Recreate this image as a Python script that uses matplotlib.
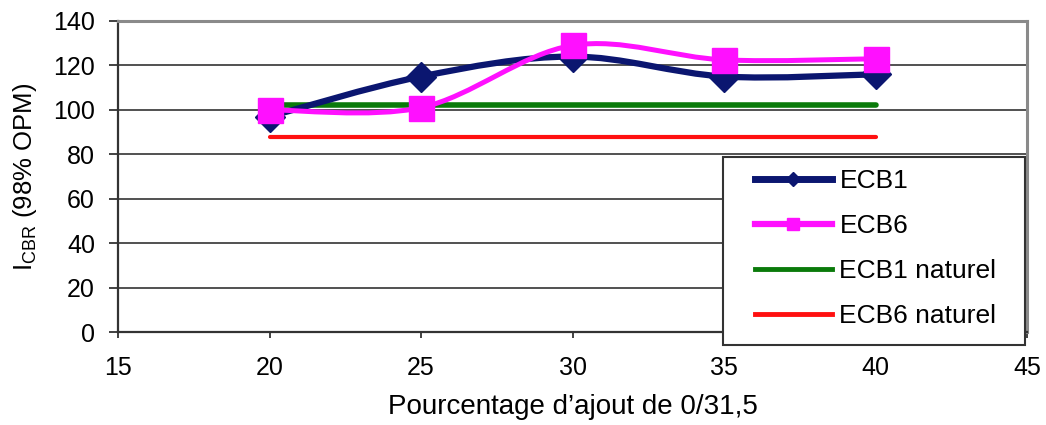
import numpy as np
import matplotlib.pyplot as plt
from matplotlib.path import Path
from matplotlib.patches import PathPatch, Rectangle
from matplotlib.lines import Line2D

# pourcentage d'ajout and CBR index values
pourcentage = [20, 25, 30, 35, 40]
ecb1 = [97, 115, 124, 115, 116]
ecb6 = [100, 101, 129, 122.5, 123]
ecb1_naturel = 102
ecb6_naturel = 88

plt.rcParams['font.family'] = ['Liberation Sans', 'DejaVu Sans']
plt.rcParams['mathtext.fontset'] = 'custom'
plt.rcParams['mathtext.rm'] = 'Liberation Sans'


def smooth_path(x, y, t=1 / 6):
    # cubic bezier through every point, like a spreadsheet "smoothed line"
    x = np.asarray(x, float)
    y = np.asarray(y, float)
    verts = [(x[0], y[0])]
    codes = [Path.MOVETO]
    n = len(x)
    for i in range(n - 1):
        p0 = (x[max(i - 1, 0)], y[max(i - 1, 0)])
        p1 = (x[i], y[i])
        p2 = (x[i + 1], y[i + 1])
        p3 = (x[min(i + 2, n - 1)], y[min(i + 2, n - 1)])
        c1 = (p1[0] + (p2[0] - p0[0]) * t, p1[1] + (p2[1] - p0[1]) * t)
        c2 = (p2[0] - (p3[0] - p1[0]) * t, p2[1] - (p3[1] - p1[1]) * t)
        verts += [c1, c2, p2]
        codes += [Path.CURVE4] * 3
    return Path(verts, codes)


fig = plt.figure(figsize=(10.46, 4.25), dpi=100)
ax = fig.add_axes([118 / 1046, 1 - 332 / 425, 909 / 1046, 311 / 425])

ax.set_xlim(15, 45)
ax.set_ylim(0, 140)
ax.set_xticks(range(15, 50, 5))
ax.set_yticks(range(0, 160, 20))
ax.yaxis.grid(True, color='#222222', linewidth=1.1)
ax.set_axisbelow(True)

for side in ['top', 'right']:
    ax.spines[side].set_color('#8a8a8a')
    ax.spines[side].set_linewidth(2.2)
for side in ['left', 'bottom']:
    ax.spines[side].set_color('#333333')
    ax.spines[side].set_linewidth(1.6)

navy = '#0b1670'
magenta = '#ff10ff'
green = '#0a7a0a'
red = '#ff1010'

# horizontal reference levels for the natural materials
ax.plot([pourcentage[0], pourcentage[-1]], [ecb1_naturel] * 2, color=green, lw=4, solid_capstyle='round', zorder=2)
ax.plot([pourcentage[0], pourcentage[-1]], [ecb6_naturel] * 2, color=red, lw=3, solid_capstyle='round', zorder=2)

ax.add_patch(PathPatch(smooth_path(pourcentage, ecb1), fc='none', ec=navy, lw=4.5, zorder=3))
ax.plot(pourcentage, ecb1, linestyle='none', marker='D', ms=15, color=navy, zorder=4)
ax.add_patch(PathPatch(smooth_path(pourcentage, ecb6), fc='none', ec=magenta, lw=3.6, zorder=5))
ax.plot(pourcentage, ecb6, linestyle='none', marker='s', ms=18, color=magenta, zorder=6)

ax.tick_params(axis='both', labelsize=18, direction='out', width=1.3, color='#333333')
ax.tick_params(axis='x', length=4.5, pad=13)
ax.tick_params(axis='y', length=6.5, pad=10)

ax.set_xlabel("Pourcentage d\u2019ajout de 0/31,5", fontsize=20, labelpad=10)
ax.set_ylabel(r'I$_{\mathrm{CBR}}$ (98% OPM)', fontsize=18.5, labelpad=10)

# legend box
ax.add_patch(Rectangle((0.6656, -0.0418), 0.3322, 0.6045, transform=ax.transAxes,
                       fc='white', ec='#333333', lw=1.5, clip_on=False, zorder=9))

handles = [
    Line2D([], [], color=navy, lw=5, marker='D', ms=7),
    Line2D([], [], color=magenta, lw=4.5, marker='s', ms=9),
    Line2D([], [], color=green, lw=3.5),
    Line2D([], [], color=red, lw=3.5),
]
labels = ['ECB1', 'ECB6', 'ECB1 naturel', 'ECB6 naturel']
leg = ax.legend(handles, labels, loc='upper left', bbox_to_anchor=(0.7008, 0.524),
                fontsize=19, frameon=False, handlelength=2.9, labelspacing=0.8,
                borderpad=0, handletextpad=0.3, borderaxespad=0)
leg.set_zorder(10)

fig.savefig('out.png', dpi=100)
